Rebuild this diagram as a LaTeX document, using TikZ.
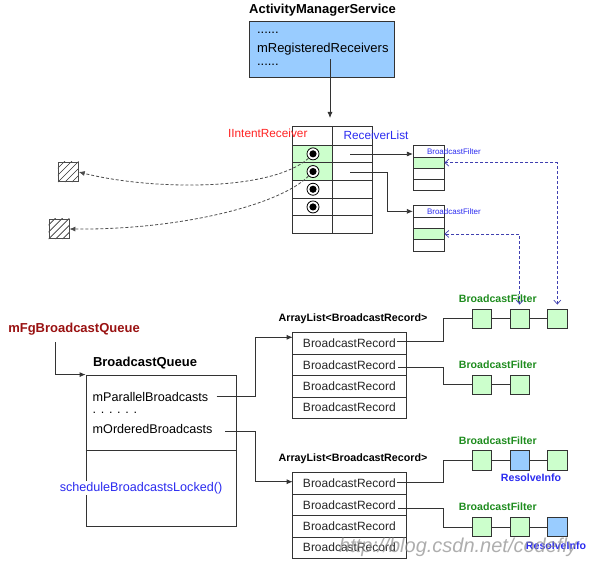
\documentclass[tikz,border=0pt]{standalone}
\usepackage{fontspec}
\setmainfont{Liberation Sans}
\usetikzlibrary{arrows.meta,calc}
\definecolor{lgray}{HTML}{333333}
\definecolor{amsblue}{HTML}{99CCFF}
\definecolor{lgreen}{HTML}{CCFFCC}
\definecolor{txtblue}{HTML}{2B2BF0}
\definecolor{txtgreen}{HTML}{1E8C1E}
\definecolor{txtred}{HTML}{FF2222}
\definecolor{dkred}{HTML}{991111}
\definecolor{dashblue}{HTML}{4040B0}
\begin{document}
\begin{tikzpicture}[x=1pt,y=-1pt,
  fs/.style={font=\fontsize{#1}{#1}\selectfont},
  fsb/.style={font=\fontsize{#1}{#1}\selectfont\bfseries},
  box/.style={draw=lgray, line width=0.8pt, inner sep=0pt, anchor=center},
  tcell/.style={box, minimum width=40pt, minimum height=17.7pt},
  rcell/.style={box, minimum width=39.3pt, minimum height=17.7pt},
  fcell/.style={box, minimum width=30.7pt, minimum height=11.3pt},
  lcell/.style={box, minimum width=113.3pt, minimum height=21.4pt, fs=12, text=black!85},
  sq/.style={box, minimum width=19.4pt, minimum height=19.4pt, fill=lgreen},
  bull/.style={circle, draw=black, line width=0.8pt, fill=white, minimum size=12pt, inner sep=0pt},
  hatch/.style={draw=black!70, line width=0.8pt, minimum width=20pt, minimum height=19.4pt, inner sep=0pt},
  conn/.style={draw=lgray, line width=0.8pt},
  arr/.style={conn, -{Latex[length=6pt,width=5pt]}},
  dconn/.style={draw=black!70, line width=0.8pt, dashed, dash pattern=on 3pt off 2pt, -{Latex[length=6pt,width=5pt]}},
  bconn/.style={draw=dashblue, line width=0.7pt, dash pattern=on 3pt off 2pt, {Straight Barb[length=4pt,width=7pt]}-{Straight Barb[length=4pt,width=7pt]}},
  bflabel/.style={fsb=10.6, text=txtgreen},
  rilabel/.style={fsb=10.6, text=txtblue}
]
\useasboundingbox (0,0) rectangle (596,561);

% ActivityManagerService
\node[fsb=13] (amst) at (322.5,10) {ActivityManagerService};
\node[box, fill=amsblue, minimum width=145pt, minimum height=55.6pt] (ams) at (321.8,49.5) {};
\node[fs=13, anchor=west] (amsd1) at (253.5,33) {......};
\node[fs=13, anchor=west] (amsreg) at (253.5,49) {mRegisteredReceivers};
\node[fs=13, anchor=west] (amsd2) at (253.5,65) {......};
\coordinate (amsfrom) at (330,59.5);
\coordinate (amsto) at (330,118);
\draw[arr] (amsfrom) -- (amsto);

% Main table
\foreach \i/\y in {1/153.85,2/171.55,3/189.25,4/206.95,5/224.65}{
  \node[tcell] (tl\i) at (312.7,\y) {};
  \node[rcell] (tr\i) at (352.35,\y) {};
}
\node[tcell, minimum height=18.3pt] (tl0) at (312.7,135.85) {};
\node[rcell, minimum height=18.3pt] (tr0) at (352.35,135.85) {};
\node[tcell, fill=lgreen] at (tl1) {};
\node[tcell, fill=lgreen] at (tl2) {};
\node[fs=11.8, text=txtred, anchor=east] (iir) at (311,133.3) {IIntentReceiver};
\node[fs=11.8, text=txtblue] (rl) at (376,135) {ReceiverList};
\foreach \i/\y in {1/153.85,2/171.55,3/189.25,4/206.95}{
  \node[bull] (b\i) at (313,\y) {};
  \fill[black] (b\i) circle (3.6pt);
}

% Hatched squares
\node[hatch] (h1) at (68.3,172) {};
\node[hatch] (h2) at (59,229) {};
\foreach \h in {h1,h2}{
  \begin{scope}
    \clip (\h.south west) rectangle (\h.north east);
    \foreach \d in {-14,-7,0,7,14}{
      \draw[black!80, line width=0.7pt] ($(\h.south west)+(\d,0)$) -- ++(22,-22);
    }
  \end{scope}
  \node[hatch] at (\h) {};
}
\draw[dconn] (b1.south west) .. controls (270,192) and (150,190) .. (h1.east);
\draw[dconn] (b2.south west) .. controls (280,205) and (180,230) .. (h2.east);

% BroadcastFilter boxes (top)
\foreach \j/\y in {a/151.35,b/162.65,c/173.95,d/185.25}{
  \node[fcell] (f1\j) at (428.65,\y) {};
}
\foreach \j/\y in {a/211.35,b/222.65,c/233.95,d/245.25}{
  \node[fcell] (f2\j) at (428.65,\y) {};
}
\node[fcell, fill=lgreen] at (f1b) {};
\node[fcell, fill=lgreen] at (f2c) {};
\node[fs=8, text=txtblue, anchor=west] (bf1t) at (423.5,151.6) {BroadcastFilter};
\node[fs=8, text=txtblue, anchor=west] (bf2t) at (423.5,211.6) {BroadcastFilter};

\coordinate (rl1) at (350,154);
\coordinate (rl2) at (350,172);
\draw[arr] (rl1) -- (rl1 -| f1a.west);
\draw[arr] (rl2) -- (387,172) |- (f2a.west);

% BroadcastQueue
\node[fsb=13, text=dkred] (mfg) at (74,329) {mFgBroadcastQueue};
\coordinate (mfgfrom) at (55,342);
\node[fsb=13, anchor=west] (bqt) at (89.5,363.5) {BroadcastQueue};
\node[box, minimum width=150.7pt, minimum height=151pt] (bq) at (161.35,450.5) {};
\draw[conn] (bq.west |- 0,450.7) -- (bq.east |- 0,450.7);
\draw[arr] (mfgfrom) |- (bq.north west);
\node[fs=12.6, anchor=west] (mpb) at (89.2,396.7) {mParallelBroadcasts};
\node[fs=12.6, anchor=west] (dots) at (89.2,413) {. . . . . .};
\node[fs=12.6, anchor=west] (mob) at (89.2,428.5) {mOrderedBroadcasts};
\node[fs=12.6, text=txtblue, fill=white, inner sep=1pt] (sbl) at (141,488.3) {scheduleBroadcastsLocked()};

% ArrayLists
\node[fsb=10.7] (al1t) at (353,319) {ArrayList<BroadcastRecord>};
\node[fsb=10.7] (al2t) at (353,459) {ArrayList<BroadcastRecord>};
\foreach \i/\y in {1/343.4,2/364.8,3/386.2,4/407.6}{
  \node[lcell] (La\i) at (349.35,\y) {BroadcastRecord};
}
\foreach \i/\y in {1/483.4,2/504.8,3/526.2,4/547.6}{
  \node[lcell] (Lb\i) at (349.35,\y) {BroadcastRecord};
}
\coordinate (pbout) at (216.7,396.7);
\coordinate (obout) at (225,431.7);
\coordinate (L1in) at (292.7,337.3);
\coordinate (L2in) at (292.7,481.7);
\draw[arr] (pbout) -- (255,396.7) |- (L1in);
\draw[arr] (obout) -- (255,431.7) |- (L2in);

% Filter chains
\node[sq] (c1a) at (482,318.7) {};
\node[sq] (c1b) at (519.7,318.7) {};
\node[sq] (c1c) at (557.3,318.7) {};
\node[sq] (c2a) at (482,384.7) {};
\node[sq] (c2b) at (519.7,384.7) {};
\node[sq] (c3a) at (482,460.3) {};
\node[sq, fill=amsblue] (c3b) at (519.7,460.3) {};
\node[sq] (c3c) at (557.3,460.3) {};
\node[sq] (c4a) at (482,527) {};
\node[sq] (c4b) at (519.7,527) {};
\node[sq, fill=amsblue] (c4c) at (557.3,527) {};
\draw[conn] (c1a) -- (c1b) -- (c1c);
\draw[conn] (c2a) -- (c2b);
\draw[conn] (c3a) -- (c3b) -- (c3c);
\draw[conn] (c4a) -- (c4b) -- (c4c);
\node[sq] at (c1a) {}; \node[sq] at (c1b) {}; \node[sq] at (c1c) {};
\node[sq] at (c2a) {}; \node[sq] at (c2b) {};
\node[sq] at (c3a) {}; \node[sq, fill=amsblue] at (c3b) {}; \node[sq] at (c3c) {};
\node[sq] at (c4a) {}; \node[sq] at (c4b) {}; \node[sq, fill=amsblue] at (c4c) {};

\node[bflabel] (bfl1) at (497.8,299) {BroadcastFilter};
\node[bflabel] (bfl2) at (497.8,365) {BroadcastFilter};
\node[bflabel] (bfl3) at (497.8,440.7) {BroadcastFilter};
\node[bflabel] (bfl4) at (497.8,506.7) {BroadcastFilter};
\node[rilabel] (ri1) at (531,477.3) {ResolveInfo};
\node[rilabel] (ri2) at (556,545.7) {ResolveInfo};

\coordinate (r1out) at (396.7,341);
\coordinate (r2out) at (398.3,367.7);
\coordinate (r3out) at (396.7,482.3);
\coordinate (r4out) at (398.3,508.3);
\draw[conn] (r1out) -- (443.3,341) |- (c1a.west);
\draw[conn] (r2out) -- (443.3,367.7) |- (c2a.west);
\draw[conn] (r3out) -- (443.3,482.3) |- (c3a.west);
\draw[conn] (r4out) -- (443.3,508.3) |- (c4a.west);

% dashed blue links
\draw[bconn] ([yshift=4pt]c1c.north) |- (f1b.east);
\draw[bconn] ([yshift=4pt]c1b.north) |- (f2c.east);

% watermark
\node[font=\fontsize{20}{20}\selectfont\itshape, text=black!45, opacity=0.7] (wm) at (458,547) {http://blog.csdn.net/codefly};
\end{tikzpicture}
\end{document}
